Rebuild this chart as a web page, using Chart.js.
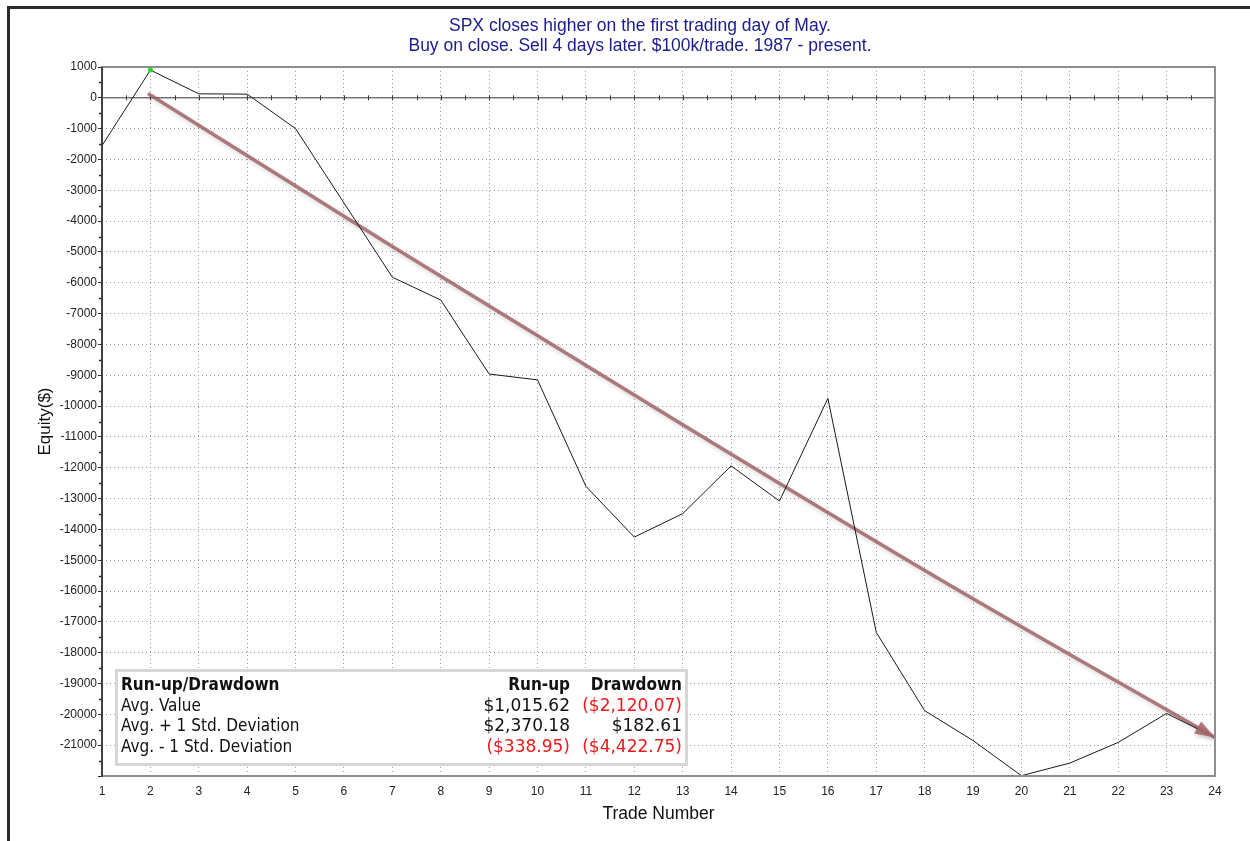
<!DOCTYPE html>
<html>
<head>
<meta charset="utf-8">
<script src="https://cdn.jsdelivr.net/npm/chart.js@4.4.0/dist/chart.umd.min.js"></script>
<style>
    html, body { margin: 0; padding: 0; background: #fff; }
    #wrap { position: relative; width: 1250px; height: 841px; overflow: hidden; }
    #frame { position: absolute; left: 7px; top: 6px; right: -10px; bottom: -10px;
             border-left: 3px solid #2b2b2b; border-top: 3px solid #2b2b2b; }
    canvas { position: absolute; left: 0; top: 0; }
    #title { position: absolute; left: 290px; width: 700px; top: 15px; text-align: center;
             font: 17.5px "Liberation Sans", Arial, sans-serif; color: #1b1b8f; line-height: 20px; }
    #stats { position: absolute; left: 115px; top: 669px; width: 567px; height: 91px;
             border: 3px solid #d6d6d6; background: #fff;
             font: 17px "DejaVu Sans Condensed", "DejaVu Sans", sans-serif; color: #111; }
    .row { position: relative; height: 20.7px; line-height: 20.7px; }
    .row span { position: absolute; top: 0; white-space: nowrap; }
    .lbl { left: 3px; }
    .run { right: 115px; }
    .dd { right: 3px; }
    .num { font-family: "DejaVu Sans", sans-serif; font-size: 17px; }
    .b { font-weight: bold; }
    .neg { color: #f01818; }
</style>
</head>
<body>
<div id="wrap">
    <canvas id="equityChart" width="1250" height="841"></canvas>
    <div id="frame"></div>
    <div id="title">SPX closes higher on the first trading day of May.<br>Buy on close. Sell 4 days later. $100k/trade. 1987 - present.</div>
    <div id="stats"></div>
</div>
<script>
const trades = [1, 2, 3, 4, 5, 6, 7, 8, 9, 10, 11, 12, 13, 14, 15, 16, 17, 18, 19, 20, 21, 22, 23, 24];
const equity = [-1550, 900, 130, 120, -1000, -3410, -5820, -6560, -8960, -9150, -12600, -14250,
    -13490, -11940, -13080, -9750, -17340, -19880, -20850, -21990, -21580, -20910, -19970, -20750];

// trend arrow path (slightly bowed)
const trendTrades = [1.95, 7, 12.37, 18.24, 24];
const trendEquity = [140, -4820, -10000, -15550, -20750];

const statLabels = ['Avg. Value', 'Avg. + 1 Std. Deviation', 'Avg. - 1 Std. Deviation'];
const runUp = ['$1,015.62', '$2,370.18', '($338.95)'];
const drawdown = ['($2,120.07)', '$182.61', '($4,422.75)'];

const FONT = '"Liberation Sans", Arial, sans-serif';

// stats box
const stats = document.getElementById('stats');
let html = '<div class="row" style="margin-top:2px"><span class="lbl b">Run-up/Drawdown</span>'
    + '<span class="run b">Run-up</span><span class="dd b">Drawdown</span></div>';
statLabels.forEach((label, i) => {
    const rc = runUp[i].startsWith('(') ? 'run num neg' : 'run num';
    const dc = drawdown[i].startsWith('(') ? 'dd num neg' : 'dd num';
    html += `<div class="row"><span class="lbl">${label}</span>`
        + `<span class="${rc}">${runUp[i]}</span><span class="${dc}">${drawdown[i]}</span></div>`;
});
stats.innerHTML = html;

const maxIdx = equity.indexOf(Math.max(...equity));

const framePlugin = {
    id: 'frame',
    beforeDatasetsDraw(chart) {
        const { ctx, chartArea: a, scales: { x, y } } = chart;
        const y0 = y.getPixelForValue(0);
        ctx.save();
        ctx.strokeStyle = '#3a3a3a';
        ctx.lineWidth = 1;
        ctx.beginPath();
        ctx.moveTo(a.left, y0);
        ctx.lineTo(a.right, y0);
        for (let t = 1.5; t < 24; t += 0.5) {
            const px = Math.round(x.getPixelForValue(t)) + 0.5;
            ctx.moveTo(px, y0 - 2.5);
            ctx.lineTo(px, y0 + 2.5);
        }
        ctx.stroke();
        ctx.restore();
    },
    beforeDatasetDraw(chart, args) {
        if (args.index === 1) {
            const { ctx } = chart;
            ctx.save();
            ctx.shadowColor = 'rgba(0,0,0,0.22)';
            ctx.shadowBlur = 4;
            ctx.shadowOffsetX = 1;
            ctx.shadowOffsetY = 2;
        }
    },
    afterDatasetDraw(chart, args) {
        if (args.index === 1) {
            chart.ctx.restore();
        }
    },
    afterDatasetsDraw(chart) {
        const { ctx, chartArea: a, scales: { y } } = chart;
        // arrow head
        const pts = chart.getDatasetMeta(1).data;
        const p0 = pts[pts.length - 2], p1 = pts[pts.length - 1];
        const ang = Math.atan2(p1.y - p0.y, p1.x - p0.x);
        const len = 20, half = 7;
        ctx.save();
        ctx.fillStyle = 'rgba(168,105,110,0.9)';
        ctx.shadowColor = 'rgba(0,0,0,0.22)';
        ctx.shadowBlur = 4;
        ctx.shadowOffsetY = 2;
        ctx.beginPath();
        ctx.moveTo(p1.x, p1.y);
        ctx.lineTo(p1.x - len * Math.cos(ang) + half * Math.sin(ang), p1.y - len * Math.sin(ang) - half * Math.cos(ang));
        ctx.lineTo(p1.x - len * Math.cos(ang) - half * Math.sin(ang), p1.y - len * Math.sin(ang) + half * Math.cos(ang));
        ctx.closePath();
        ctx.fill();
        ctx.restore();

        // plot frame and minor ticks
        ctx.save();
        ctx.strokeStyle = '#8e8e8e';
        ctx.lineWidth = 2;
        ctx.strokeRect(a.left, a.top, a.right - a.left, a.bottom - a.top);
        ctx.strokeStyle = '#2a2a2a';
        ctx.lineWidth = 1.5;
        ctx.beginPath();
        ctx.moveTo(a.left, a.top);
        ctx.lineTo(a.left, a.bottom + 1);
        for (let v = 500; v > -22000; v -= 1000) {
            const py = Math.round(y.getPixelForValue(v)) + 0.5;
            ctx.moveTo(a.left - 3, py);
            ctx.lineTo(a.left, py);
        }
        ctx.stroke();
        ctx.restore();
    },
};

new Chart(document.getElementById('equityChart'), {
    type: 'line',
    data: {
        datasets: [{
            data: trades.map((t, i) => ({ x: t, y: equity[i] })),
            borderColor: '#1a1a1a',
            borderWidth: 1,
            pointRadius: (c) => (c.dataIndex === maxIdx ? 2.5 : 0),
            pointBackgroundColor: '#22dd22',
            pointBorderWidth: 0,
            tension: 0,
        }, {
            data: trendTrades.map((t, i) => ({ x: t, y: trendEquity[i] })),
            borderColor: 'rgba(155,92,95,0.8)',
            borderWidth: 3.5,
            pointRadius: 0,
            cubicInterpolationMode: 'monotone',
        }],
    },
    options: {
        responsive: false,
        animation: false,
        layout: { padding: { left: 10, top: 67, right: 35, bottom: 0 } },
        plugins: { legend: { display: false }, tooltip: { enabled: false } },
        scales: {
            x: {
                type: 'linear',
                min: 1,
                max: 24,
                afterFit: (s) => { s.height = 65; },
                ticks: { stepSize: 1, autoSkip: false, maxRotation: 0, padding: 8, color: '#222', font: { family: FONT, size: 12 } },
                grid: { color: '#9a9a9a', drawTicks: false },
                border: { display: false, dash: [1, 3] },
                title: { display: true, text: 'Trade Number', color: '#111', font: { family: FONT, size: 17.5 }, padding: { top: 0, bottom: 16 } },
            },
            y: {
                min: -22000,
                max: 1000,
                afterFit: (s) => { s.width = 92; },
                ticks: {
                    stepSize: 1000,
                    padding: 1,
                    color: '#222',
                    font: { family: FONT, size: 12 },
                    callback: (v) => (v === -22000 ? '' : String(v)),
                },
                grid: { color: '#9a9a9a', tickColor: '#2a2a2a', tickLength: 4 },
                border: { display: false, dash: [1, 3] },
                title: { display: true, text: 'Equity($)', color: '#111', font: { family: FONT, size: 17 }, padding: { top: 25, bottom: 0 } },
            },
        },
    },
    plugins: [framePlugin],
});
</script>
</body>
</html>
